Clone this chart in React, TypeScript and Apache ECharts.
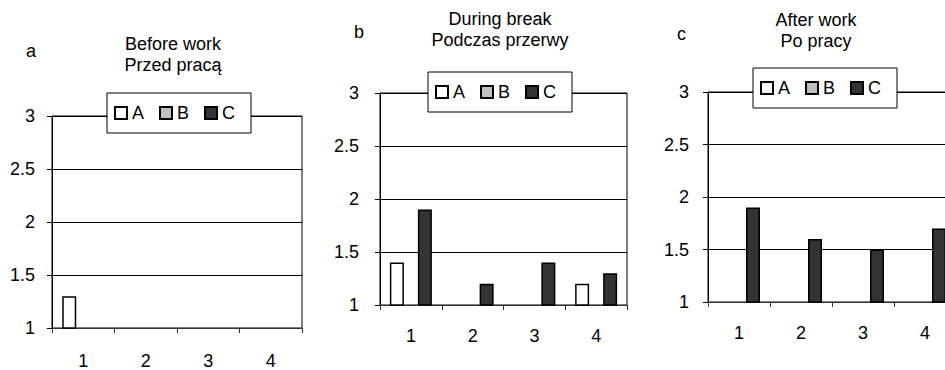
import React, { useEffect, useRef } from "react";
import * as echarts from "echarts";

const categories = ["1", "2", "3", "4"];
const seriesNames = ["A", "B", "C"];
const yTicks = [1, 1.5, 2, 2.5, 3];

// Panel a – Before work / Przed pracą
const beforeA = [1.3, null, null, null];
const beforeB = [null, null, null, null];
const beforeC = [null, null, null, null];
// Panel b – During break / Podczas przerwy
const breakA = [1.4, null, null, 1.2];
const breakB = [null, null, null, null];
const breakC = [1.9, 1.2, 1.4, 1.3];
// Panel c – After work / Po pracy
const afterA = [null, null, null, null];
const afterB = [null, null, null, null];
const afterC = [1.9, 1.6, 1.5, 1.7];

const panelLetters = ["a", "b", "c"];
const panelTitles = ["Before work\nPrzed pracą", "During break\nPodczas przerwy", "After work\nPo pracy"];

const FONT = "'Liberation Sans', Arial, sans-serif";
const colors: Record<string, string> = { A: "#ffffff", B: "#c0c0c0", C: "#333333" };

export default function App() {
  const ref = useRef<HTMLDivElement>(null);
  useEffect(() => {
    if (!ref.current) return;
    const chart = echarts.init(ref.current, undefined, { renderer: "svg" });
    const panels = [
      { data: [beforeA, beforeB, beforeC], grid: { left: 52, top: 116, width: 250, height: 216 }, yMargin: 17, xMargin: 24, legend: { left: 107, top: 93 }, title: { x: 173, y: 54 }, letter: { x: 26, y: 51 } },
      { data: [breakA, breakB, breakC], grid: { left: 380, top: 93, width: 247, height: 212 }, yMargin: 21, xMargin: 22, legend: { left: 428, top: 72 }, title: { x: 500, y: 29 }, letter: { x: 354, y: 32 } },
      { data: [afterA, afterB, afterC], grid: { left: 708, top: 92, width: 248, height: 210 }, yMargin: 19, xMargin: 22, legend: { left: 753, top: 68 }, title: { x: 816, y: 30 }, letter: { x: 677, y: 34 } },
    ];
    const series: any[] = [];
    panels.forEach((p, i) => {
      seriesNames.forEach((name, j) => {
        series.push({
          type: "bar",
          name,
          xAxisIndex: i,
          yAxisIndex: i,
          data: p.data[j],
          barWidth: 14,
          barGap: "0%",
          itemStyle: { color: colors[name], borderColor: "#000", borderWidth: 1.5 },
        });
      });
    });
    const option: any = {
      animation: false,
      textStyle: { fontFamily: FONT },
      grid: panels.map((p) => ({ ...p.grid, show: true, borderColor: "#000", borderWidth: 1, backgroundColor: "transparent" })),
      xAxis: panels.map((p, i) => ({
        type: "category",
        gridIndex: i,
        data: categories,
        axisLine: { lineStyle: { color: "#333", width: 1 } },
        axisTick: { show: true, length: 5, lineStyle: { color: "#333" } },
        axisLabel: { color: "#000", fontSize: 18, fontFamily: FONT, margin: p.xMargin },
        splitLine: { show: false },
      })),
      yAxis: panels.map((p, i) => ({
        type: "value",
        gridIndex: i,
        min: 1,
        max: 3,
        interval: 0.5,
        axisLine: { show: true, lineStyle: { color: "#000", width: 1 } },
        axisTick: { show: true, length: 5, lineStyle: { color: "#000" } },
        axisLabel: { color: "#000", fontSize: 18, fontFamily: FONT, margin: p.yMargin, formatter: (v: number) => (yTicks.includes(v) ? String(v) : "") },
        splitLine: { show: true, lineStyle: { color: "#000", width: 1 } },
      })),
      legend: panels.map((p) => ({
        data: seriesNames,
        left: p.legend.left,
        top: p.legend.top,
        orient: "horizontal",
        icon: "rect",
        itemWidth: 12,
        itemHeight: 12,
        itemGap: 15,
        padding: [11, 16, 11, 7],
        backgroundColor: "#fff",
        borderColor: "#000",
        borderWidth: 1,
        selectedMode: false,
        textStyle: { color: "#000", fontSize: 18, fontFamily: FONT },
        z: 10,
      })),
      graphic: [
        ...panels.map((p, i) => ({
          type: "text",
          x: p.title.x,
          y: p.title.y,
          style: { text: panelTitles[i], fontSize: 18, fontFamily: FONT, fill: "#000", align: "center", verticalAlign: "middle", lineHeight: 21 },
        })),
        ...panels.map((p, i) => ({
          type: "text",
          x: p.letter.x,
          y: p.letter.y,
          style: { text: panelLetters[i], fontSize: 18, fontFamily: FONT, fill: "#000", align: "left", verticalAlign: "middle" },
        })),
      ],
      series,
    };
    chart.setOption(option);
    return () => chart.dispose();
  }, []);
  return (
    <div style={{ position: "fixed", left: 0, top: 0, width: 945, height: 370, overflow: "hidden", background: "#fff" }}>
      <div ref={ref} style={{ width: 980, height: 370 }} />
    </div>
  );
}
